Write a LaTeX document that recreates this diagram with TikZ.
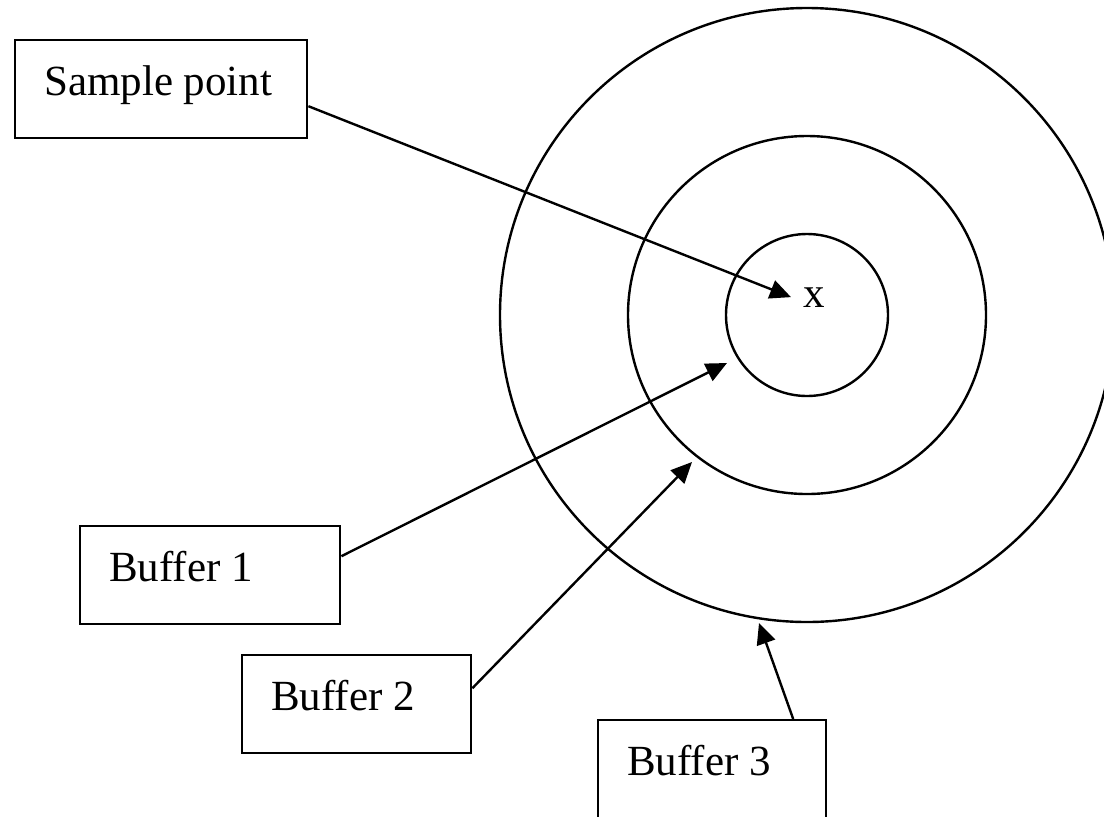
\documentclass[tikz,border=0pt]{standalone}
\usepackage{fontspec}
\setmainfont{Liberation Serif}
\usepackage{tikz}
\usetikzlibrary{arrows.meta, calc}

\begin{document}
\begin{tikzpicture}[x=0.5pt, y=-0.5pt,
    box/.style={draw, line width=1.2pt, inner xsep=14.5pt, inner ysep=0pt,
      text width=#1, align=left, text height=27.5pt, text depth=21.5pt,
      anchor=north west, font=\fontsize{21.5pt}{25pt}\selectfont,
      execute at begin node={\spaceskip=5.2pt\relax}},
    ring/.style={draw, circle, line width=1.2pt, inner sep=0pt, minimum size=#1},
    pointer/.style={line width=1.2pt, -{Triangle[length=10.5pt, width=9.5pt]}}]
    \useasboundingbox (0,0) rectangle (1104,816);
    \clip (0,0) rectangle (1104,816);
    % buffers round the sample point
    \node[ring=307pt] (outer) at (807,315) {};
    \node[ring=179pt] (middle) at (807,315) {};
    \node[ring=81pt] (inner) at (807,315) {};
    \node[anchor=base west, inner sep=0pt, font=\fontsize{21.5pt}{25pt}\selectfont] (xmark) at (803,307) {x};
    % labels
    \node[box=117pt] (samp) at (14,39) {Sample point};
    \node[box=101pt] (buf1) at (79,525) {Buffer 1};
    \node[box=85.5pt] (buf2) at (241,654) {Buffer 2};
    \node[box=85pt] (buf3) at (597,719) {Buffer 3};
    \coordinate (ring1) at (727,363);
    \coordinate (ring2) at (692,462);
    \coordinate (ring3) at (759,623);
    \draw[pointer] ($(samp.east)+(0,17)$) -- ([xshift=-6pt]xmark.west);
    \draw[pointer] ($(buf1.east)+(0,-19)$) -- (ring1);
    \draw[pointer] ($(buf2.east)+(0,-16)$) -- (ring2);
    \draw[pointer] ($(buf3.north)+(81,0)$) -- (ring3);
\end{tikzpicture}
\end{document}
